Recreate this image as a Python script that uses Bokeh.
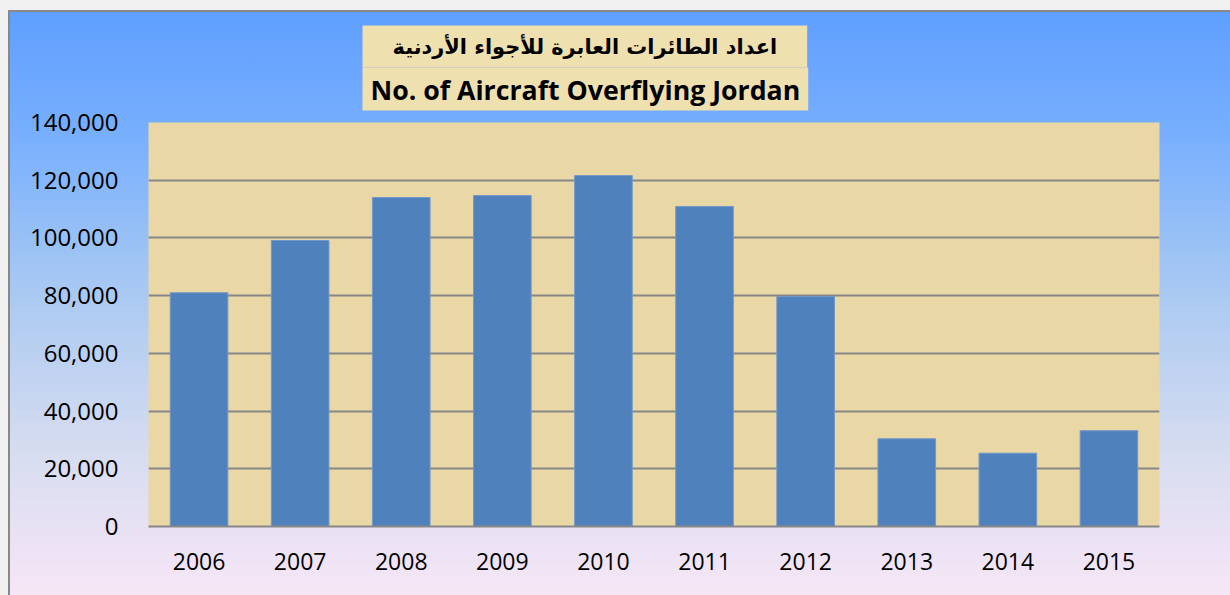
from bokeh.plotting import figure
from bokeh.models import NumeralTickFormatter, FixedTicker, Title
from bokeh.embed import file_html
from bokeh.resources import INLINE

years = ["2006", "2007", "2008", "2009", "2010", "2011", "2012", "2013", "2014", "2015"]
aircraft = [81000, 99100, 114000, 114700, 121600, 110900, 79700, 30400, 25400, 33200]
y_ticks = [0, 20000, 40000, 60000, 80000, 100000, 120000, 140000]
title_ar = "اعداد الطائرات العابرة للأجواء الأردنية"
title_en = "No. of Aircraft Overflying Jordan"

p = figure(x_range=years, y_range=(0, 140000), width=1230, height=595,
           output_backend="svg", toolbar_location=None,
           min_border_left=148, min_border_right=71, min_border_top=122, min_border_bottom=69)

p.styles = {
    "background": ("linear-gradient(to bottom, #5f9fff 0%, #79b0fd 22%, #a9c9f2 48%, "
                   "#d6dcf0 75%, #f6e6f6 100%) 10px 12px / calc(100% - 10px) calc(100% - 12px) no-repeat, "
                   "linear-gradient(#888888, #888888) 8px 10px / 100% 100% no-repeat, #f0f0f0"),
}
p.border_fill_color = None
p.background_fill_color = "#e9d7a6"
p.outline_line_color = None

p.vbar(x=years, top=aircraft, width=0.57, fill_color="#4f81bd", line_color="#7399c9", line_width=1)

p.xgrid.grid_line_color = None
p.ygrid.grid_line_color = "#878787"
p.ygrid.grid_line_width = 2
p.yaxis.ticker = FixedTicker(ticks=y_ticks)
p.yaxis.formatter = NumeralTickFormatter(format="0,0")

for ax in (p.xaxis, p.yaxis):
    ax.major_tick_line_color = None
    ax.minor_tick_line_color = None
    ax.major_label_text_font = "Open Sans"
    ax.major_label_text_color = "#000000"
p.yaxis.major_label_text_font_size = "24px"
p.xaxis.major_label_text_font_size = "23px"
p.yaxis.axis_line_color = None
p.yaxis.major_label_standoff = 24
p.xaxis.axis_line_color = "#878787"
p.xaxis.axis_line_width = 2
p.xaxis.major_label_standoff = 20

# Arabic line (top, farthest from the frame)
p.title.text = title_ar
p.title.align = "left"
p.title.offset = 214
p.title.standoff = -28
p.title.text_font = "DejaVu Sans"
p.title.text_font_style = "bold"
p.title.text_font_size = "20.9px"
p.title.text_color = "#000000"
p.title.background_fill_color = "#efe0b0"
p.title.padding = {"left": 30, "right": 30, "top": 9, "bottom": 9}

# English line (nearest the frame)
t_en = Title(text=title_en, align="left", offset=214, standoff=24,
             text_font="Open Sans", text_font_style="bold", text_font_size="26.7px",
             text_color="#000000", background_fill_color="#efe0b0",
             padding={"left": 8, "right": 8, "top": 3, "bottom": 3})
p.add_layout(t_en, "above")

open("out.html", "w").write(file_html(p, INLINE))
